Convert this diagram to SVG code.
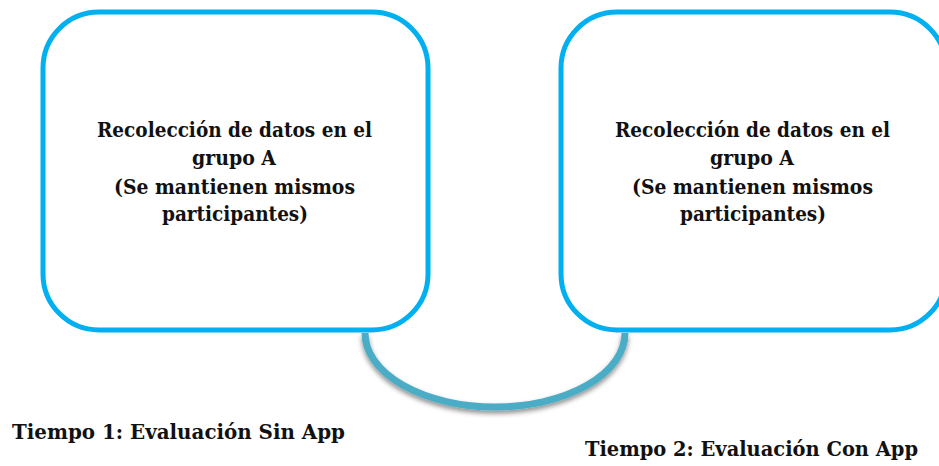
<svg xmlns="http://www.w3.org/2000/svg" width="939" height="466" viewBox="0 0 939 466">
<style>
.box{fill:#fff;stroke:#00B0F0;stroke-width:5}
.t{font-family:"DejaVu Serif","Liberation Serif",serif;font-weight:bold;font-size:21px;fill:#111;text-anchor:middle}
.lab{font-family:"DejaVu Serif","Liberation Serif",serif;font-weight:bold;font-size:20px;fill:#111}
.arc{fill:none;stroke:#4BACC6;stroke-width:7}
</style>
<defs>
<filter id="sh" x="-20%" y="-20%" width="140%" height="160%">
<feDropShadow dx="0" dy="3" stdDeviation="2.5" flood-color="#000" flood-opacity="0.45"/>
</filter>
</defs>
<g id="connectors">
<path class="arc" filter="url(#sh)" d="M 365 333 A 130 74 0 0 0 625 333"/>
</g>
<g id="node1">
<rect class="box" x="43" y="12" width="385" height="318" rx="56"/>
<text class="t" x="234.5" y="137" textLength="275" lengthAdjust="spacingAndGlyphs">Recolección de datos en el</text>
<text class="t" x="234" y="165" textLength="84" lengthAdjust="spacingAndGlyphs">grupo A</text>
<text class="t" x="234.5" y="193.5" textLength="241" lengthAdjust="spacingAndGlyphs">(Se mantienen mismos</text>
<text class="t" x="235" y="221" textLength="146" lengthAdjust="spacingAndGlyphs">participantes)</text>
</g>
<g id="node2">
<rect class="box" x="561" y="12" width="385" height="318" rx="56"/>
<text class="t" x="752.5" y="137" textLength="275" lengthAdjust="spacingAndGlyphs">Recolección de datos en el</text>
<text class="t" x="752" y="165" textLength="84" lengthAdjust="spacingAndGlyphs">grupo A</text>
<text class="t" x="752.5" y="193.5" textLength="241" lengthAdjust="spacingAndGlyphs">(Se mantienen mismos</text>
<text class="t" x="753" y="221" textLength="146" lengthAdjust="spacingAndGlyphs">participantes)</text>
</g>
<g id="label1">
<text class="lab" x="12" y="439" textLength="333" lengthAdjust="spacingAndGlyphs">Tiempo 1:  Evaluación Sin App</text>
</g>
<g id="label2">
<text class="lab" x="585" y="456" textLength="333" lengthAdjust="spacingAndGlyphs">Tiempo 2: Evaluación Con App</text>
</g>
</svg>
